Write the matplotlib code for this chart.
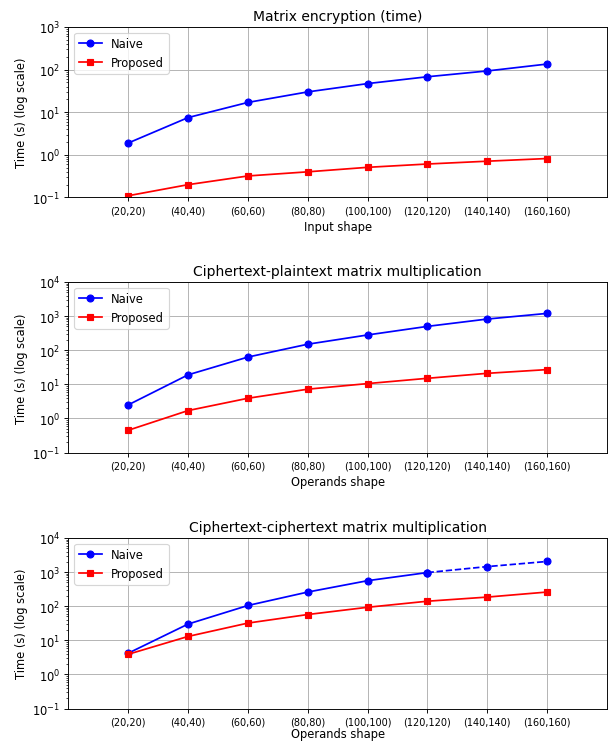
import numpy as np
import matplotlib.pyplot as plt

shapes = ['(20,20)', '(40,40)', '(60,60)', '(80,80)',
          '(100,100)', '(120,120)', '(140,140)', '(160,160)']

enc_naive = [1.9, 7.5, 17, 30, 47, 68, 93, 135]
enc_proposed = [0.11, 0.2, 0.32, 0.4, 0.51, 0.61, 0.71, 0.82]

ptmul_naive = [2.5, 19, 63, 150, 280, 500, 820, 1200]
ptmul_proposed = [0.45, 1.7, 3.9, 7.2, 10.5, 15, 21, 27]

ctmul_naive = [4.2, 30, 105, 260, 560, 970, 1450, 2050]
ctmul_proposed = [3.9, 13, 32, 57, 93, 140, 185, 260]
ctmul_measured = 6  # last measured point index; the rest is extrapolated

x = np.arange(1, len(shapes) + 1)

DPI = 83
fig = plt.figure(figsize=(611 / DPI, 742 / DPI), dpi=DPI)
ax1 = fig.add_axes([0.1121, 0.7325, 0.8813, 0.2298])
ax2 = fig.add_axes([0.1121, 0.3888, 0.8813, 0.2298])
ax3 = fig.add_axes([0.1121, 0.0438, 0.8813, 0.2298])


def setup(ax, title, xlabel, ytop, pad=4.0):
    ax.set_yscale('log')
    ax.set_ylim(1e-1, ytop)
    ax.set_xlim(0, 9)
    ax.set_xticks(x)
    ax.set_xticklabels(shapes, fontsize=8.5)
    ax.set_title(title, fontsize=12)
    ax.set_xlabel(xlabel, labelpad=pad)
    ax.set_ylabel('Time (s) (log scale)')
    ax.grid(True)
    ax.legend(loc='upper left')


ax1.plot(x, enc_naive, 'b-o', label='Naive')
ax1.plot(x, enc_proposed, 'r-s', label='Proposed')
setup(ax1, 'Matrix encryption (time)', 'Input shape', 1e3)

ax2.plot(x, ptmul_naive, 'b-o', label='Naive')
ax2.plot(x, ptmul_proposed, 'r-s', label='Proposed')
setup(ax2, 'Ciphertext-plaintext matrix multiplication', 'Operands shape', 1e4)

k = ctmul_measured
ax3.plot(x[:k], ctmul_naive[:k], 'b-o', label='Naive')
ax3.plot(x[k - 1:], ctmul_naive[k - 1:], 'b--o')
ax3.plot(x, ctmul_proposed, 'r-s', label='Proposed')
# bottom label squeezed up a little so it stays inside the picture
setup(ax3, 'Ciphertext-ciphertext matrix multiplication', 'Operands shape', 1e4, pad=0.5)

fig.savefig('out.png', dpi=DPI)
